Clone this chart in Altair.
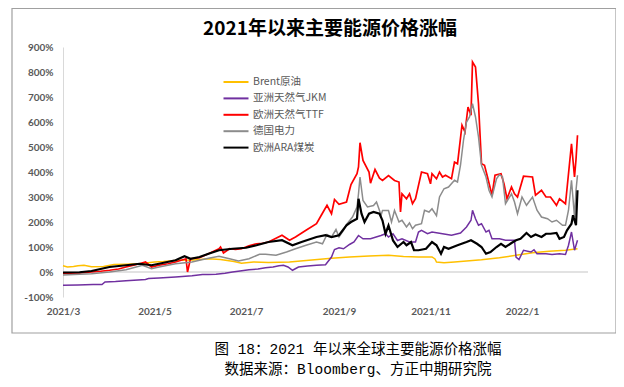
import altair as alt
import pandas as pd

START = pd.Timestamp("2021-03-01")

series_names = ["Brent原油", "亚洲天然气JKM", "欧洲天然气TTF", "德国电力", "欧洲ARA煤炭"]
series_colors = ["#FFC000", "#7030A0", "#FF0000", "#8C8C8C", "#000000"]
series_widths = [1.5, 1.5, 1.7, 1.5, 2.2]

# day offsets from 2021-03-01 and values (%)
brent_days = [0, 3, 7, 10, 14, 19, 27, 34, 42, 51, 61, 67, 77, 87, 97, 105, 114, 119, 127, 137, 151, 164, 179, 191, 204, 217, 227, 237, 246, 248, 249, 254, 261, 269, 279, 291, 302, 313, 324, 335, 343]
brent_vals = [25, 20, 22, 25, 27, 21, 22, 30, 31, 33, 40, 42, 47, 48, 53, 50, 42, 35, 40, 38, 40, 47, 55, 60, 64, 67, 62, 60, 60, 52, 40, 37, 40, 44, 49, 57, 67, 77, 83, 87, 93]

jkm_days = [0, 10, 20, 26, 28, 35, 42, 50, 55, 57, 64, 75, 86, 93, 97, 102, 108, 113, 118, 124, 130, 135, 140, 144, 147, 150, 153, 157, 163, 169, 175, 179, 181, 184, 187, 191, 194, 197, 200, 205, 212, 215, 217, 220, 223, 226, 231, 235, 237, 239, 243, 246, 253, 259, 265, 269, 272, 273, 275, 277, 279, 282, 284, 286, 291, 295, 301, 302, 304, 307, 312, 314, 316, 322, 326, 331, 335, 337, 339, 341, 343]
jkm_vals = [-53, -52, -50, -50, -40, -38, -35, -32, -30, -26, -24, -20, -15, -10, -10, -9, -5, 0, 4, 9, 12, 17, 20, 25, 27, 20, 7, 20, 24, 27, 29, 60, 90, 97, 93, 110, 120, 146, 133, 133, 146, 153, 140, 153, 126, 133, 120, 120, 160, 167, 153, 160, 153, 147, 156, 180, 207, 247, 213, 187, 193, 160, 167, 133, 133, 127, 127, 60, 50, 87, 80, 89, 73, 73, 70, 73, 70, 107, 160, 87, 127]

ttf_days = [0, 5, 11, 19, 25, 31, 37, 42, 47, 51, 55, 57, 59, 64, 70, 75, 82, 83, 85, 91, 97, 104, 105, 107, 111, 115, 119, 124, 129, 133, 137, 142, 146, 151, 155, 162, 169, 172, 176, 179, 181, 184, 189, 191, 192, 196, 197, 198, 200, 204, 205, 208, 211, 213, 217, 221, 224, 225, 226, 229, 231, 233, 235, 239, 243, 245, 246, 249, 251, 253, 255, 259, 261, 263, 266, 268, 270, 272, 273, 275, 277, 279, 281, 283, 286, 288, 292, 294, 296, 299, 301, 303, 307, 313, 315, 319, 322, 325, 329, 331, 335, 339, 341, 342, 343]
ttf_vals = [-6, -5, -4, 0, 3, 7, 12, 20, 27, 33, 40, 30, 20, 27, 33, 40, 53, 0, 53, 57, 73, 93, 100, 76, 93, 90, 93, 105, 113, 115, 120, 135, 147, 127, 140, 167, 193, 225, 267, 233, 290, 271, 280, 327, 350, 393, 420, 517, 446, 400, 355, 410, 375, 366, 386, 366, 360, 240, 313, 293, 313, 273, 293, 400, 393, 353, 393, 373, 400, 380, 387, 373, 440, 433, 587, 560, 660, 627, 840, 820, 673, 433, 427, 380, 307, 387, 393, 353, 293, 340, 313, 300, 383, 380, 307, 327, 300, 300, 267, 293, 273, 513, 380, 450, 547]

de_days = [0, 11, 19, 31, 42, 53, 59, 64, 75, 86, 91, 97, 104, 111, 117, 124, 131, 135, 142, 149, 155, 162, 169, 173, 176, 179, 182, 184, 187, 189, 193, 196, 197, 198, 200, 203, 207, 209, 211, 212, 213, 217, 219, 221, 224, 226, 229, 231, 233, 235, 239, 241, 244, 246, 249, 251, 254, 257, 261, 263, 265, 267, 269, 271, 273, 275, 277, 279, 282, 284, 286, 289, 291, 293, 295, 299, 301, 303, 306, 309, 313, 316, 319, 323, 326, 329, 333, 335, 337, 339, 341, 342, 343]
de_vals = [-12, -9, -7, 0, 9, 27, 13, 20, 33, 40, 47, 55, 63, 53, 44, 53, 71, 71, 67, 80, 93, 107, 120, 113, 150, 140, 170, 140, 167, 190, 220, 260, 313, 380, 286, 260, 266, 280, 246, 226, 246, 246, 200, 246, 200, 207, 180, 196, 173, 187, 193, 247, 240, 253, 225, 300, 333, 340, 367, 360, 427, 527, 600, 620, 673, 620, 540, 427, 380, 327, 300, 373, 390, 380, 273, 313, 280, 233, 300, 267, 300, 247, 220, 213, 200, 207, 187, 187, 247, 367, 220, 327, 387]

ara_days = [0, 11, 19, 25, 31, 42, 51, 59, 64, 75, 81, 85, 91, 97, 104, 113, 122, 129, 137, 146, 153, 159, 169, 175, 179, 184, 189, 192, 196, 197, 199, 201, 204, 207, 211, 213, 215, 217, 220, 223, 227, 229, 232, 234, 237, 242, 246, 249, 252, 254, 257, 263, 269, 272, 276, 279, 282, 285, 289, 292, 295, 299, 302, 305, 309, 312, 315, 319, 322, 325, 329, 331, 334, 336, 339, 340, 342, 343]
ara_vals = [-2, -1, 4, 12, 20, 27, 33, 27, 33, 47, 63, 53, 60, 73, 87, 93, 97, 107, 120, 127, 107, 120, 140, 147, 140, 147, 187, 200, 213, 293, 233, 200, 233, 240, 233, 206, 153, 186, 126, 100, 120, 107, 120, 87, 87, 93, 120, 107, 73, 100, 93, 107, 120, 127, 113, 100, 73, 80, 100, 113, 100, 116, 127, 133, 156, 140, 150, 140, 153, 153, 156, 133, 140, 167, 193, 227, 187, 327]

y_ticks = [-100, 0, 100, 200, 300, 400, 500, 600, 700, 800, 900]
x_ticks = [(2021, 3), (2021, 5), (2021, 7), (2021, 9), (2021, 11), (2022, 1)]

title_text = "2021年以来主要能源价格涨幅"
caption_lines = ["图 18：2021 年以来全球主要能源价格涨幅", "数据来源：Bloomberg、方正中期研究院"]

all_days = [brent_days, jkm_days, ttf_days, de_days, ara_days]
all_vals = [brent_vals, jkm_vals, ttf_vals, de_vals, ara_vals]

frames = []
for name, d, v in zip(series_names, all_days, all_vals):
    frames.append(pd.DataFrame({
        "date": START + pd.to_timedelta(d, unit="D"),
        "value": v,
        "series": name,
    }))

W, H = 525, 250
LABEL_FONT = "Lato"
AX_COLOR = "#595959"

color_scale = alt.Scale(domain=series_names, range=series_colors)
legend = alt.Legend(
    orient="none", legendX=167, legendY=29, title=None,
    symbolType="M-2.5,0H2.5", symbolSize=100, symbolStrokeWidth=2,
    labelFont="Noto Sans CJK SC", labelFontSize=10.5, labelColor=AX_COLOR,
    labelOffset=11, rowPadding=4.4, padding=0,
)

x_scale = alt.Scale(domain=[alt.DateTime(year=2021, month=3, date=1),
                            alt.DateTime(year=2022, month=2, date=14)])
x_axis = alt.Axis(
    values=[alt.DateTime(year=y, month=m, date=1) for y, m in x_ticks],
    labelExpr="year(datum.value) + '/' + (month(datum.value) + 1)",
    title=None, domain=False, ticks=False, grid=False,
    labelFont=LABEL_FONT, labelFontWeight="bold", labelFontSize=10,
    labelColor=AX_COLOR, labelPadding=9, labelFlush=False,
    labelOverlap=False,
)
y_scale = alt.Scale(domain=[-100, 900], nice=False)
y_axis = alt.Axis(
    values=y_ticks, labelExpr="datum.value + '%'",
    title=None, domain=True, domainColor="#D9D9D9", domainWidth=1,
    ticks=False, grid=False, labelOverlap=False,
    labelFont=LABEL_FONT, labelFontWeight="bold", labelFontSize=10,
    labelColor=AX_COLOR, labelPadding=10,
)

zero = alt.Chart(pd.DataFrame({"value": [0]})).mark_rule(
    color="#D9D9D9", strokeWidth=1.5
).encode(y=alt.Y("value:Q", scale=y_scale, axis=y_axis))

layers = [zero]
for i, f in enumerate(frames):
    layers.append(
        alt.Chart(f).mark_line(strokeWidth=series_widths[i]).encode(
            x=alt.X("date:T", scale=x_scale, axis=x_axis),
            y=alt.Y("value:Q", scale=y_scale, axis=y_axis),
            color=alt.Color("series:N", scale=color_scale, legend=legend),
        )
    )

dummy = pd.DataFrame({"t": [0]})
box = alt.Chart(dummy).mark_rect(
    fillOpacity=0, stroke="#A0A0A0", strokeWidth=1.2
).encode(
    x=alt.value(-51), x2=alt.value(553), y=alt.value(-38.5), y2=alt.value(286)
)
title_mark = alt.Chart(dummy).mark_text(
    font="Noto Sans CJK SC", fontSize=19, fontWeight="bold", color="#000000",
    align="center", baseline="middle"
).encode(x=alt.value(267), y=alt.value(-18.5), text=alt.value(title_text))
cap1 = alt.Chart(dummy).mark_text(
    font="Liberation Mono, Noto Sans CJK SC", fontSize=14.5, color="#000000",
    align="center", baseline="middle"
).encode(x=alt.value(295), y=alt.value(302.5), text=alt.value(caption_lines[0]))
cap2 = alt.Chart(dummy).mark_text(
    font="Liberation Mono, Noto Sans CJK SC", fontSize=14.5, color="#000000",
    align="center", baseline="middle"
).encode(x=alt.value(295), y=alt.value(322.5), text=alt.value(caption_lines[1]))

chart = alt.layer(box, title_mark, *layers, cap1, cap2).properties(
    width=W, height=H,
    autosize=alt.AutoSizeParams(type="none"),
    padding={"left": 55, "top": 39, "right": 28, "bottom": 82},
).configure_view(strokeWidth=0)

chart.save("out.html", embed_options={"renderer": "svg", "actions": False})
